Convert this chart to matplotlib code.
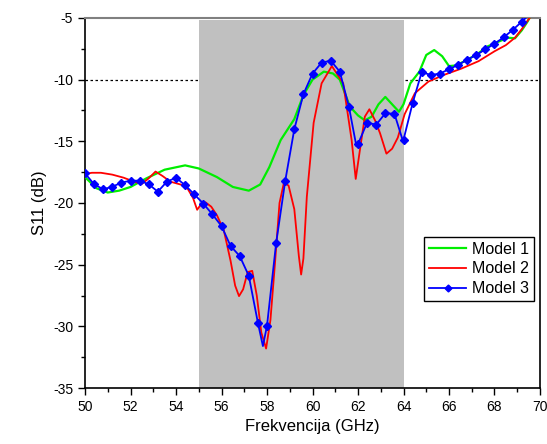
import numpy as np
import matplotlib
matplotlib.use("Agg")
import matplotlib.pyplot as plt
from matplotlib.ticker import MultipleLocator

plt.rcParams['font.family'] = ['Liberation Sans', 'DejaVu Sans']
plt.rcParams['axes.unicode_minus'] = False

# Model 1 (green)
f1 = [50.0, 50.5, 51.0, 51.5, 52.0, 52.7, 53.5, 54.4, 55.0, 55.8, 56.5, 57.2, 57.7,
      58.1, 58.6, 59.2, 59.6, 60.0, 60.5, 60.9, 61.2, 61.65, 62.0, 62.3, 62.6, 62.9,
      63.2, 63.5, 63.8, 64.0, 64.3, 64.7, 65.0, 65.35, 65.7, 66.0, 66.3, 66.8, 67.3,
      67.7, 68.2, 68.6, 68.9, 69.2, 69.45, 69.6]
s1 = [-17.9, -18.8, -19.15, -19.0, -18.7, -18.0, -17.3, -16.95, -17.2, -17.9, -18.7,
      -19.0, -18.5, -17.1, -14.9, -13.2, -11.25, -10.0, -9.35, -9.5, -10.0, -12.2,
      -12.9, -13.3, -13.0, -12.0, -11.4, -12.0, -12.6, -12.0, -10.3, -9.35, -8.0,
      -7.6, -8.1, -8.9, -8.85, -8.4, -7.85, -7.3, -6.9, -6.6, -6.65, -6.0, -5.3, -4.8]

# Model 2 (red)
f2 = [50.0, 50.3, 50.7, 51.2, 51.7, 52.2, 52.5, 52.8, 53.1, 53.4, 53.75, 54.2, 54.5,
      54.75, 54.93, 55.1, 55.3, 55.55, 55.8, 56.1, 56.4, 56.6, 56.77, 56.95, 57.15,
      57.35, 57.55, 57.75, 57.96, 58.15, 58.35, 58.55, 58.75, 58.95, 59.2, 59.4, 59.5,
      59.6, 59.75, 60.05, 60.4, 60.85, 61.35, 61.72, 61.9, 62.1, 62.3, 62.5, 62.75,
      62.97, 63.25, 63.5, 63.75, 64.05, 64.5, 65.1, 65.8, 66.55, 67.3, 68.0, 68.5,
      68.9, 69.2, 69.5, 69.7]
s2 = [-17.65, -17.55, -17.55, -17.7, -17.95, -18.3, -18.45, -18.0, -17.45, -17.8,
      -18.27, -18.5, -18.8, -19.6, -20.55, -20.1, -19.95, -20.3, -21.0, -22.2, -24.7,
      -26.7, -27.55, -27.0, -25.6, -25.5, -27.5, -30.5, -31.8, -29.5, -24.9, -20.0,
      -18.3, -18.6, -20.5, -24.3, -25.8, -24.5, -19.5, -13.5, -10.3, -8.9, -10.3,
      -14.9, -18.05, -15.5, -13.0, -12.4, -13.3, -14.35, -16.0, -15.6, -14.7, -12.8,
      -11.1, -10.15, -9.6, -9.1, -8.5, -7.7, -7.2, -6.6, -5.9, -5.1, -4.7]

# Model 3 (blue): marker samples
f3 = [50.0, 50.4, 50.8, 51.2, 51.6, 52.0, 52.4, 52.8, 53.2, 53.6, 54.0, 54.4, 54.8,
      55.2, 55.6, 56.0, 56.4, 56.8, 57.2, 57.6, 58.0, 58.4, 58.8, 59.2, 59.6, 60.0,
      60.4, 60.8, 61.2, 61.6, 62.0, 62.4, 62.8, 63.2, 63.6, 64.0, 64.4, 64.8, 65.2,
      65.6, 66.0, 66.4, 66.8, 67.2, 67.6, 68.0, 68.4, 68.8, 69.2, 69.6]
s3 = [-17.6, -18.48, -18.89, -18.68, -18.35, -18.19, -18.19, -18.48, -19.08, -18.27,
      -17.95, -18.56, -19.29, -20.05, -20.92, -21.87, -23.49, -24.3, -25.9, -29.71,
      -29.95, -23.27, -18.22, -14.02, -11.18, -9.51, -8.62, -8.46, -9.35, -12.19,
      -15.22, -13.49, -13.65, -12.73, -12.76, -14.87, -11.91, -9.39, -9.62, -9.51,
      -9.15, -8.81, -8.38, -8.0, -7.54, -7.09, -6.57, -5.97, -5.3, -4.6]
# extra points on the blue curve between markers (dips)
f3_extra = [57.82, 61.93, 63.98]
s3_extra = [-31.6, -15.4, -15.0]

band = [55, 64]
ref_level = -10

f3_line = sorted(f3 + f3_extra)
s3_map = dict(zip(f3 + f3_extra, s3 + s3_extra))
s3_line = [s3_map[f] for f in f3_line]

fig = plt.figure(figsize=(5.47, 4.44), dpi=100)
ax = fig.add_axes([0.1554, 0.1261, 0.8318, 0.8334])

ax.axhline(ref_level, color='black', linestyle=(0, (2, 2)), linewidth=0.9, zorder=1)
ax.fill_between(band, -35, -5.2, color='#C0C0C0', linewidth=0, zorder=2)

ax.plot(f1, s1, color='#00EE00', linewidth=1.6, label='Model 1', zorder=3)
ax.plot(f2, s2, color='#FF0000', linewidth=1.3, label='Model 2', zorder=4)
ax.plot(f3_line, s3_line, color='#0000FF', linewidth=1.3, zorder=5)
ax.plot(f3, s3, color='#0000FF', linestyle='none', marker='D', markersize=4, zorder=6)
# legend proxy for Model 3
ax.plot([], [], color='#0000FF', linewidth=1.3, marker='D', markersize=3.5, label='Model 3')

ax.set_xlim(50, 70)
ax.set_ylim(-35, -5)
ax.xaxis.set_major_locator(MultipleLocator(2))
ax.xaxis.set_minor_locator(MultipleLocator(1))
ax.yaxis.set_major_locator(MultipleLocator(5))
ax.yaxis.set_minor_locator(MultipleLocator(2.5))
ax.tick_params(which='both', direction='out', top=False, right=False, labelsize=10)
ax.tick_params(which='major', length=5, width=1)
ax.tick_params(which='minor', length=3, width=1)

for side in ['left', 'bottom', 'right']:
    ax.spines[side].set_linewidth(1.2)
ax.spines['top'].set_color('#808080')
ax.spines['top'].set_linewidth(1.5)

ax.set_xlabel('Frekvencija (GHz)', fontsize=12)
ax.set_ylabel('S11 (dB)', fontsize=12)

leg = ax.legend(loc='lower right', bbox_to_anchor=(0.987, 0.235), borderaxespad=0,
                fontsize=11.5, frameon=True, fancybox=False, edgecolor='black',
                framealpha=1, handlelength=2.3, borderpad=0.3, labelspacing=0.3,
                handletextpad=0.4)
leg.get_frame().set_linewidth(1.0)

fig.savefig('out.png', dpi=100)
